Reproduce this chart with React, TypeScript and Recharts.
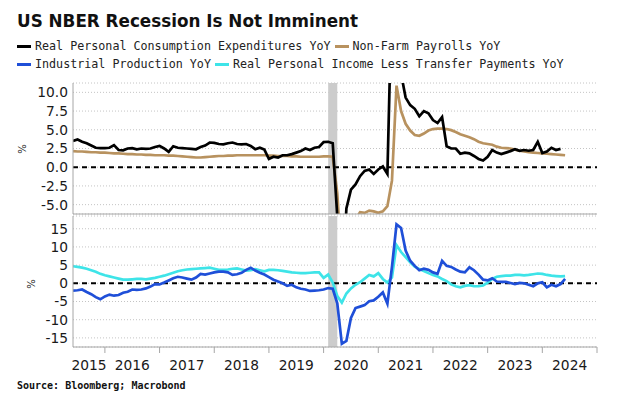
import React from 'react';
import { LineChart, Line, XAxis, YAxis, CartesianGrid, ReferenceLine, ReferenceArea } from 'recharts';

// Monthly observations, first month = May 2015
const START_YEAR = 2015;
const START_MONTH = 5;

const pce = [
  3.5, 3.7, 3.4, 3.2, 2.9, 2.6, 2.55, 2.55, 2.6, 2.95,
  2.3, 2.25, 2.5, 2.55, 2.4, 2.5, 2.45, 2.5, 2.7, 2.85,
  2.5, 2.05, 2.8, 2.6, 2.55, 2.5, 2.45, 2.4, 2.7, 2.9,
  3.3, 3.25, 3.1, 3.05, 3.2, 3.3, 3.1, 3.05, 3.1, 2.85,
  2.4, 2.6, 2.35, 1.1, 1.4, 1.3, 1.6, 1.6, 1.75, 1.95,
  2.15, 2.5, 2.3, 2.6, 2.7, 3.35, 3.4, 3.2, -6.6, -17.0,
  -5.5, -3.0, -2.3, -1.2, -0.5, -0.3, -0.9, -0.3, 0.1, -0.9,
  24.0, 26.0, 12.5, 9.3, 8.3, 7.8, 6.8, 7.5, 7.2, 6.3,
  5.9, 6.7, 2.8, 2.5, 2.5, 1.8, 1.95, 1.85, 1.5, 1.1,
  0.9, 1.4, 2.3, 1.95, 1.75, 1.95, 2.15, 2.4, 2.2, 2.3,
  2.2, 2.3, 3.4, 1.9, 2.1, 2.6, 2.3, 2.45,
];

const nfp = [
  2.15, 2.1, 2.1, 2.05, 2.0, 2.0, 1.95, 1.95, 1.9, 1.85,
  1.85, 1.8, 1.75, 1.75, 1.7, 1.7, 1.65, 1.65, 1.6, 1.6,
  1.6, 1.55, 1.55, 1.5, 1.45, 1.4, 1.35, 1.3, 1.3, 1.35,
  1.4, 1.45, 1.5, 1.5, 1.55, 1.55, 1.6, 1.6, 1.6, 1.6,
  1.6, 1.6, 1.6, 1.55, 1.55, 1.5, 1.5, 1.5, 1.45, 1.45,
  1.4, 1.4, 1.4, 1.4, 1.4, 1.45, 1.45, 1.4, -3.5, -13.0,
  -11.5, -9.5, -7.0, -6.0, -6.1, -5.8, -5.9, -6.1, -5.9, -5.2,
  -1.8, 10.9, 7.5, 5.8, 4.9, 4.3, 4.2, 4.5, 4.9, 5.1,
  5.15, 5.15, 5.1, 4.95, 4.7, 4.4, 4.2, 4.0, 3.75, 3.4,
  3.2, 3.1, 3.0, 2.75, 2.6, 2.55, 2.5, 2.35, 2.2, 2.1,
  2.0, 1.95, 1.9, 1.85, 1.8, 1.75, 1.7, 1.65, 1.6,
];

const ip = [
  -2.0, -1.9, -1.7, -2.4, -3.0, -3.8, -4.4, -3.6, -3.1, -3.4,
  -3.2, -2.6, -2.3, -1.7, -1.8, -1.7, -1.4, -0.9, -0.2, -0.3,
  0.2, 0.8, 1.4, 1.8, 1.6, 1.3, 1.0, 1.6, 2.6, 2.4,
  2.7, 3.0, 3.2, 3.2, 3.0, 2.3, 2.5, 2.9, 3.7, 4.3,
  3.5, 2.9, 2.4, 1.7, 1.0, 0.5, 0.0, -0.7, -0.4, -1.1,
  -1.5, -1.7, -2.1, -2.0, -1.9, -1.7, -1.3, -1.5, -5.5, -16.6,
  -15.8, -9.5, -6.8, -6.4, -6.0, -4.9, -4.7, -3.7, -2.5, -5.6,
  4.5, 16.2, 15.2, 9.0, 6.2, 4.8, 3.6, 4.0, 3.7, 3.0,
  2.6, 6.2, 4.8, 4.5, 3.8, 3.2, 3.0, 4.4, 3.6, 2.4,
  1.0, 0.8, 1.4, 0.5, 0.4, 0.4, 0.1, -0.2, 0.1, 0.0,
  -0.4, -0.8, 0.0, 0.3, -1.1, -0.4, -0.8, -0.2, 1.2,
];

const income = [
  4.7, 4.5, 4.3, 4.0, 3.6, 3.2, 2.6, 2.2, 1.9, 1.6,
  1.3, 1.0, 1.0, 1.1, 1.2, 1.2, 1.1, 1.3, 1.5, 1.8,
  2.1, 2.5, 2.9, 3.3, 3.6, 3.8, 3.9, 4.0, 4.1, 4.2,
  4.3, 4.0, 3.7, 3.7, 3.8, 4.0, 4.1, 3.8, 3.5, 3.6,
  3.9, 3.6, 3.3, 3.7, 3.7, 3.6, 3.4, 3.2, 3.0, 2.9,
  2.8, 2.8, 2.9, 3.0, 3.0, 1.5, 2.4, 0.2, -3.5, -5.3,
  -2.8, -1.4, -0.4, 0.3, 1.3, 2.3, 1.9, 2.8, 1.2, 0.2,
  1.6, 10.5, 8.6, 7.2, 5.8, 4.6, 3.9, 3.4, 2.8, 2.3,
  1.9, 1.2, 0.6, -0.3, -0.8, -1.1, -0.7, -0.5, -0.8, -0.8,
  -0.6, 0.2, 1.2, 1.8, 2.0, 2.1, 2.1, 2.3, 2.3, 2.2,
  2.3, 2.5, 2.7, 2.6, 2.3, 2.1, 2.0, 1.9, 2.0,
];

const topTicks = [-5, -2.5, 0, 2.5, 5, 7.5, 10];
const bottomTicks = [-15, -10, -5, 0, 5, 10, 15];
const yearTicks = [2016, 2017, 2018, 2019, 2020, 2021, 2022, 2023, 2024, 2025];
const recession = { startYear: 2020, startMonth: 2, endYear: 2020, endMonth: 4 };

const seriesNames = {
  pce: 'Real Personal Consumption Expenditures YoY',
  nfp: 'Non-Farm Payrolls YoY',
  ip: 'Industrial Production YoY',
  income: 'Real Personal Income Less Transfer Payments YoY',
};

const COLORS = {
  pce: '#000000',
  nfp: '#b8925f',
  ip: '#1f4fd8',
  income: '#3ee4e8',
};

const n = Math.max(pce.length, nfp.length, ip.length, income.length);
const data = Array.from({ length: n }, (_, i) => {
  const m0 = START_MONTH - 1 + i;
  const year = START_YEAR + Math.floor(m0 / 12);
  const month = (m0 % 12) + 1;
  return {
    t: year + month / 12, // plotted at month end
    pce: i < pce.length ? pce[i] : null,
    nfp: i < nfp.length ? nfp[i] : null,
    ip: i < ip.length ? ip[i] : null,
    income: i < income.length ? income[i] : null,
  };
});

const X_MIN = START_YEAR + (START_MONTH - 1) / 12 + 1 / 12;
const X_MAX = 2025;
const recX1 = recession.startYear + (recession.startMonth - 1) / 12;
const recX2 = recession.endYear + (recession.endMonth - 1) / 12;

const W = 620;
const LEFT = 73;
const RIGHT_MARGIN = 23;
const PLOT_W = W - LEFT - RIGHT_MARGIN;
const PX_PER_YEAR = PLOT_W / (X_MAX - X_MIN);

const AXIS_FONT = '"DejaVu Sans", sans-serif';
const MONO = '"DejaVu Sans Mono", monospace';
const AXIS_COLOR = '#a6a6a6';
const GRID_COLOR = '#c4c4c4';

const YearTick = (props: any) => {
  const { x, y, payload, index } = props;
  const v = payload.value as number;
  const span = index === 0 ? v - X_MIN : 1;
  const cx = x - (span * PX_PER_YEAR) / 2;
  return (
    <text x={cx} y={y} dy={15} textAnchor="middle" fill="#1a1a1a" fontSize={13.8} fontFamily={AXIS_FONT}>
      {v - 1}
    </text>
  );
};

const yTickStyle = { fill: '#1a1a1a', fontSize: 13.8, fontFamily: AXIS_FONT };

const Swatch = ({ color }: { color: string }) => (
  <span style={{ display: 'inline-block', width: 14, height: 3, background: color, marginRight: 4 }} />
);

export default function App() {
  return (
    <div style={{ position: 'absolute', left: 0, top: 0, width: W, height: 406, background: '#fff', overflow: 'hidden' }}>
      <div style={{ position: 'absolute', left: 17, top: 10, fontFamily: '"DejaVu Sans", sans-serif', fontWeight: 'bold', fontSize: 16.8, lineHeight: '22px', color: '#111', whiteSpace: 'nowrap' }}>
        US NBER Recession Is Not Imminent
      </div>
      <div style={{ position: 'absolute', left: 17, top: 39, display: 'flex', alignItems: 'center', fontFamily: MONO, fontSize: 11.7, lineHeight: '14px', color: '#222', whiteSpace: 'nowrap' }}>
        <Swatch color={COLORS.pce} />
        <span style={{ marginRight: 4 }}>{seriesNames.pce}</span>
        <Swatch color={COLORS.nfp} />
        <span>{seriesNames.nfp}</span>
      </div>
      <div style={{ position: 'absolute', left: 17, top: 57, display: 'flex', alignItems: 'center', fontFamily: MONO, fontSize: 11.7, lineHeight: '14px', color: '#222', whiteSpace: 'nowrap' }}>
        <Swatch color={COLORS.ip} />
        <span style={{ marginRight: 4 }}>{seriesNames.ip}</span>
        <Swatch color={COLORS.income} />
        <span>{seriesNames.income}</span>
      </div>

      <div style={{ position: 'absolute', left: 22, top: 149, transform: 'translate(-50%, -50%) rotate(-90deg)', fontFamily: AXIS_FONT, fontSize: 10, color: '#222' }}>%</div>
      <div style={{ position: 'absolute', left: 31, top: 284, transform: 'translate(-50%, -50%) rotate(-90deg)', fontFamily: AXIS_FONT, fontSize: 10, color: '#222' }}>%</div>

      <div style={{ position: 'absolute', left: 0, top: 0 }}>
        <LineChart width={W} height={215} data={data} margin={{ top: 83, right: RIGHT_MARGIN, left: 0, bottom: 0 }}>
          <ReferenceArea x1={recX1} x2={recX2} fill="#cccccc" fillOpacity={1} stroke="none" />
          <CartesianGrid vertical={false} stroke={GRID_COLOR} strokeDasharray="1 2" />
          <XAxis dataKey="t" type="number" domain={[X_MIN, X_MAX]} allowDataOverflow ticks={yearTicks} tick={false} tickLine={false} axisLine={{ stroke: AXIS_COLOR }} height={1} />
          <YAxis type="number" domain={[-6.25, 11.25]} allowDataOverflow ticks={topTicks} width={LEFT} tickLine={false} tickSize={0} tickMargin={5} axisLine={{ stroke: AXIS_COLOR }} tick={yTickStyle} tickFormatter={(v: number) => v.toFixed(1)} interval={0} />
          <ReferenceLine y={0} stroke="#000" strokeWidth={2} strokeDasharray="5 4" />
          <Line type="linear" dataKey="nfp" stroke={COLORS.nfp} strokeWidth={2.7} dot={false} isAnimationActive={false} />
          <Line type="linear" dataKey="pce" stroke={COLORS.pce} strokeWidth={2.7} dot={false} isAnimationActive={false} />
        </LineChart>
      </div>

      <div style={{ position: 'absolute', left: 0, top: 0 }}>
        <LineChart width={W} height={380} data={data} margin={{ top: 216, right: RIGHT_MARGIN, left: 0, bottom: 0 }}>
          <ReferenceArea x1={recX1} x2={recX2} fill="#cccccc" fillOpacity={1} stroke="none" />
          <CartesianGrid vertical={false} stroke={GRID_COLOR} strokeDasharray="1 2" />
          <XAxis dataKey="t" type="number" domain={[X_MIN, X_MAX]} allowDataOverflow ticks={yearTicks} interval={0} tick={<YearTick />} tickSize={6} tickLine={{ stroke: AXIS_COLOR }} axisLine={{ stroke: AXIS_COLOR }} height={33} />
          <YAxis type="number" domain={[-17.5, 18.5]} allowDataOverflow ticks={bottomTicks} width={LEFT} tickLine={false} tickSize={0} tickMargin={5} axisLine={{ stroke: AXIS_COLOR }} tick={yTickStyle} interval={0} />
          <ReferenceLine y={0} stroke="#000" strokeWidth={2} strokeDasharray="5 4" />
          <Line type="linear" dataKey="income" stroke={COLORS.income} strokeWidth={2.7} dot={false} isAnimationActive={false} />
          <Line type="linear" dataKey="ip" stroke={COLORS.ip} strokeWidth={2.7} dot={false} isAnimationActive={false} />
        </LineChart>
      </div>

      <div style={{ position: 'absolute', left: 17, top: 380, fontFamily: MONO, fontWeight: 'bold', fontSize: 10, lineHeight: '12px', color: '#111', whiteSpace: 'nowrap' }}>
        Source: Bloomberg; Macrobond
      </div>
    </div>
  );
}
